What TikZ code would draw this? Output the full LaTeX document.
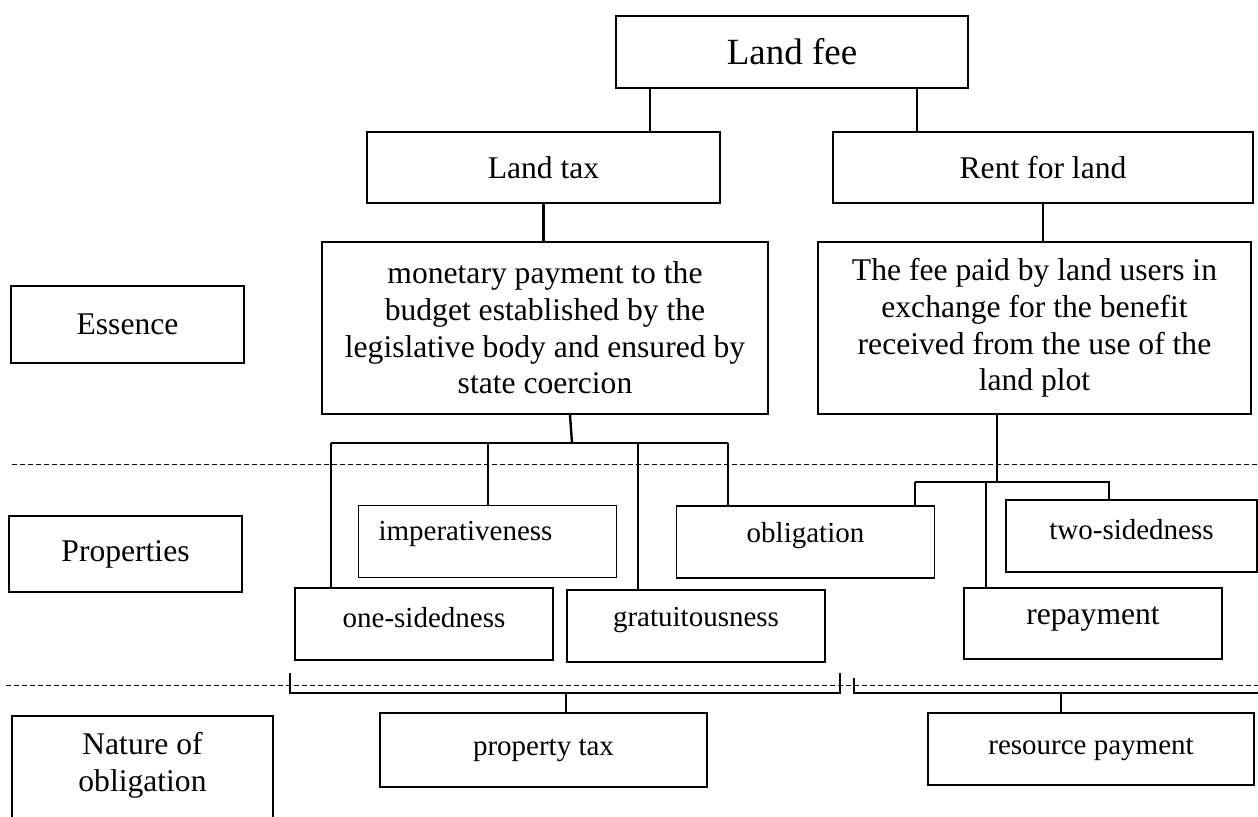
\documentclass[tikz,border=0pt]{standalone}
\usepackage{fontspec}
\setmainfont{Liberation Serif}
\begin{document}
\begin{tikzpicture}[x=0.5pt,y=-0.5pt,
  box/.style={draw,line width=0.75pt,inner sep=0pt,align=center,font=\fontsize{15.8}{18.35}\selectfont},
  prop/.style={draw,line width=0.75pt,inner sep=0pt,minimum width=129pt,minimum height=36pt},
  txt/.style={inner sep=0pt,align=center,font=\fontsize{14.5}{16.7}\selectfont},
  big/.style={inner sep=0pt,align=center,font=\fontsize{15.8}{18.35}\selectfont},
  link/.style={line width=1.2pt},
  bus/.style={line width=1.4pt},
  drop/.style={line width=0.7pt},
  sep/.style={line width=0.5pt,dash pattern=on 2.25pt off 1.75pt}]
\useasboundingbox (0,0) rectangle (1258,817);
\clip (0,0) rectangle (1258,817);
% top levels
\node[box,minimum width=176pt,minimum height=36pt,font=\fontsize{18.5}{21}\selectfont] (fee) at (792,52) {Land fee};
\node[box,minimum width=176.5pt,minimum height=35.5pt] (tax) at (543.5,167.5) {Land tax};
\node[box,minimum width=210pt,minimum height=35.5pt] (rent) at (1043,167.5) {Rent for land};
\node[box,minimum width=223pt,minimum height=86pt] (money) at (545,328) {monetary payment to the\\budget established by the\\legislative body and ensured by\\state coercion};
\node[box,minimum width=216.5pt,minimum height=86pt] (paid) at (1034.5,328) {The fee paid by land users in\\exchange for the benefit\\received from the use of the\\land plot};
% row titles
\node[box,minimum width=116.5pt,minimum height=38.5pt] (essence) at (127.5,324.5) {Essence};
\node[box,minimum width=116.5pt,minimum height=38pt] (props) at (125.5,554) {Properties};
\node[prop,minimum width=130.5pt,minimum height=57pt,label={[big,yshift=4pt]center:Nature of\\obligation}] (nature) at (142.5,773) {};
% properties
\node[prop,label={[txt,xshift=-11pt,yshift=4pt]center:imperativeness}] (imp) at (487.5,541.5) {};
\node[prop,label={[txt,yshift=3pt]center:obligation}] (obl) at (805.5,542) {};
\node[prop,minimum width=125.5pt,label={[txt,yshift=3pt]center:two-sidedness}] (two) at (1131.5,536) {};
\node[prop,label={[txt,yshift=3pt]center:one-sidedness}] (one) at (424,624) {};
\node[prop,label={[txt,yshift=3pt]center:gratuitousness}] (grat) at (696,626) {};
\node[prop,minimum height=35.5pt,label={[big,yshift=2pt]center:repayment}] (repay) at (1093,623.5) {};
% nature of obligation
\node[box,minimum width=163.5pt,minimum height=37pt,font=\fontsize{14.5}{16.7}\selectfont] (ptax) at (543.5,750) {property tax};
\node[box,minimum width=163pt,minimum height=36pt,font=\fontsize{14.5}{16.7}\selectfont] (rpay) at (1091,749) {resource payment};
% separators
\draw[sep] (12,465) -- (1258,465);
\draw[sep] (6,685) -- (1258,685);
% connectors
\coordinate (j1) at (650,0);
\coordinate (j2) at (917,0);
\draw[link] (fee.south -| j1) -- (tax.north -| j1);
\draw[link] (fee.south -| j2) -- (rent.north -| j2);
\draw[link] (tax.south) -- (tax.south |- money.north);
\draw[link] (rent.south) -- (rent.south |- paid.north);
\coordinate (lj) at (572,443);
\draw[link] (money.south -| 570,0) -- (lj);
\draw[bus] (331,443) -- (728,443);
\foreach \x/\n in {331/one,488/imp,638/grat,728/obl}
  \draw[drop] (\x,443) -- (\n.north -| \x,0);
\coordinate (rj) at (997,482);
\draw[drop] (paid.south -| rj) -- (rj);
\draw[bus] (915,482) -- (1110,482);
\foreach \x/\n in {915/obl,986/repay,1109/two}
  \draw[drop] (\x,482) -- (\n.north -| \x,0);
% brackets
\draw[drop] (290,673) -- (290,693) -- (840,693) -- (840,673);
\draw[link] (566,693) -- (ptax.north -| 566,0);
\draw[drop] (854,678) -- (854,693) -- (1258,693);
\draw[link] (1061,693) -- (rpay.north -| 1061,0);
\end{tikzpicture}
\end{document}
